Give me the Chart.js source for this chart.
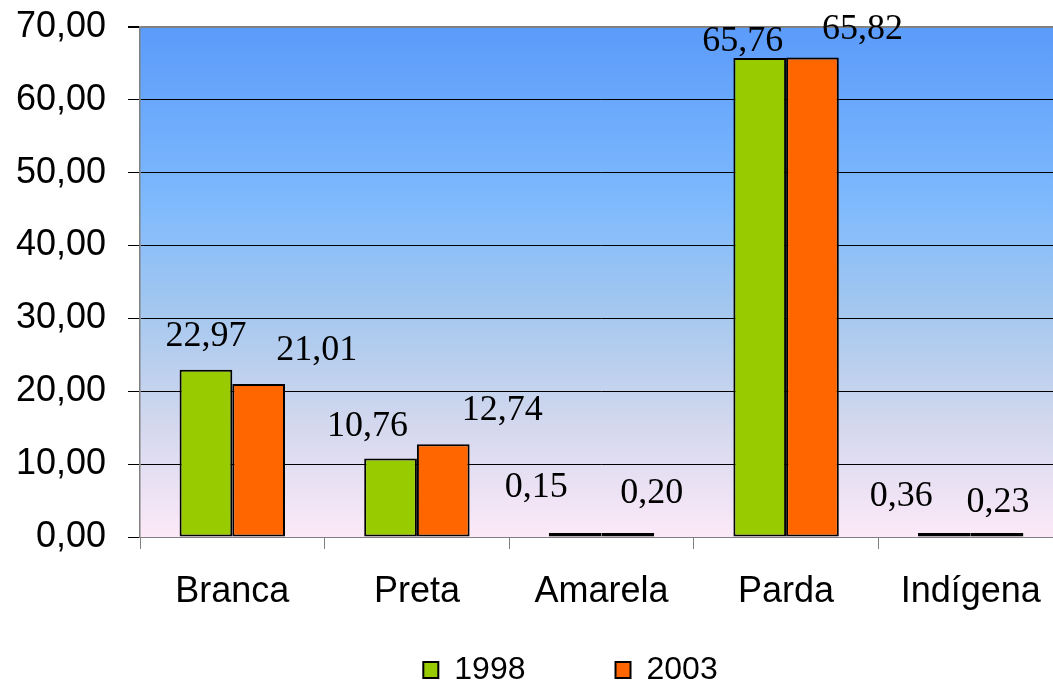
<!DOCTYPE html>
<html>
<head>
<meta charset="utf-8">
<script src="https://cdn.jsdelivr.net/npm/chart.js@4"></script>
<style>
  html, body { margin: 0; padding: 0; background: #fff; overflow: hidden; }
  #wrap { width: 1063px; height: 696px; }
</style>
</head>
<body>
<div id="wrap"><canvas id="chart" width="1063" height="696"></canvas></div>
<script>
// dados
const categories = ['Branca', 'Preta', 'Amarela', 'Parda', 'Indígena'];
const values1998 = [22.97, 10.76, 0.15, 65.76, 0.36];
const values2003 = [21.01, 12.74, 0.20, 65.82, 0.23];
const yTicks = [0, 10, 20, 30, 40, 50, 60, 70];
const seriesNames = ['1998', '2003'];

// deslocamento dos rótulos (px) em relação ao topo da barra
const labelDx = [[0, -23, -39, -17, -43], [58, 59, 24, 50, 1]];
const labelDy = [[36, 35, 48, 19, 39], [36, 36.5, 42, 30, 33]];

const fmt = v => v.toFixed(2).replace('.', ',');

// fundo em degradê da área do gráfico
const plotBackground = {
  id: 'plotBackground',
  beforeDraw(chart) {
    const { ctx, chartArea: a } = chart;
    const g = ctx.createLinearGradient(0, a.top, 0, a.bottom);
    g.addColorStop(0, '#5b9bfa');
    g.addColorStop(0.35, '#7fbafd');
    g.addColorStop(0.55, '#a3c7ef');
    g.addColorStop(0.78, '#d3d8ee');
    g.addColorStop(1, '#fde9f8');
    ctx.save();
    ctx.fillStyle = g;
    ctx.fillRect(a.left, a.top, a.right - a.left, a.bottom - a.top);
    ctx.restore();
  }
};

// legenda um pouco à direita, como no original
const legendShift = {
  id: 'legendShift',
  afterLayout(chart) {
    if (chart.legend) {
      chart.legend.left += 39;
      chart.legend.right += 39;
    }
  }
};

// rótulos de valor acima das barras
const valueLabels = {
  id: 'valueLabels',
  afterDatasetsDraw(chart) {
    const ctx = chart.ctx;
    ctx.save();
    ctx.font = '36px "Liberation Serif", "Times New Roman", serif';
    ctx.fillStyle = '#000';
    ctx.textAlign = 'center';
    ctx.textBaseline = 'alphabetic';
    chart.data.datasets.forEach((ds, i) => {
      chart.getDatasetMeta(i).data.forEach((el, j) => {
        const cy = el.y - labelDy[i][j];
        ctx.fillText(fmt(ds.data[j]), el.x + labelDx[i][j], cy + 12);
      });
    });
    ctx.restore();
  }
};

new Chart(document.getElementById('chart'), {
  type: 'bar',
  data: {
    labels: categories,
    datasets: [
      { label: seriesNames[0], data: values1998, backgroundColor: '#99cc00', borderColor: '#000', borderWidth: 2 },
      { label: seriesNames[1], data: values2003, backgroundColor: '#ff6600', borderColor: '#000', borderWidth: 2 }
    ]
  },
  options: {
    responsive: false,
    animation: false,
    layout: { padding: { top: 27, right: 0, left: 0, bottom: 0 } },
    datasets: { bar: { barPercentage: 1, categoryPercentage: 0.571, minBarLength: 4, borderSkipped: false } },
    plugins: {
      legend: {
        position: 'bottom',
        labels: {
          color: '#000',
          font: { family: '"Liberation Sans", Arial, sans-serif', size: 32 },
          boxWidth: 15,
          boxHeight: 16,
          padding: 10,
          // espaço extra depois do primeiro item, como no original
          generateLabels(chart) {
            const items = Chart.defaults.plugins.legend.labels.generateLabels(chart);
            items[0].text = items[0].text + '\u00a0'.repeat(9);
            return items;
          }
        }
      },
      tooltip: { enabled: false }
    },
    scales: {
      x: {
        grid: { offset: true, drawOnChartArea: false, tickLength: 12, tickColor: '#808080' },
        border: { color: '#808080', width: 1 },
        ticks: {
          color: '#000',
          padding: 21,
          font: { family: '"Liberation Sans", Arial, sans-serif', size: 36 }
        },
        afterFit(scale) { scale.height = 107; }
      },
      y: {
        min: 0,
        max: 70,
        afterBuildTicks(scale) { scale.ticks = yTicks.map(v => ({ value: v })); },
        grid: {
          color: ctx => (ctx.tick && ctx.tick.value === 70) ? '#808080' : '#000',
          lineWidth: ctx => (ctx.tick && ctx.tick.value === 70) ? 2 : 1,
          tickLength: 12,
          tickColor: '#000'
        },
        border: { color: '#808080', width: 1.5 },
        ticks: {
          color: '#000',
          padding: 22,
          font: { family: '"Liberation Sans", Arial, sans-serif', size: 36 },
          callback: v => fmt(v)
        },
        afterFit(scale) {
          scale.width = 140;
          scale.paddingTop = 0;
          scale.paddingBottom = 0;
        }
      }
    }
  },
  plugins: [plotBackground, legendShift, valueLabels]
});
</script>
</body>
</html>
